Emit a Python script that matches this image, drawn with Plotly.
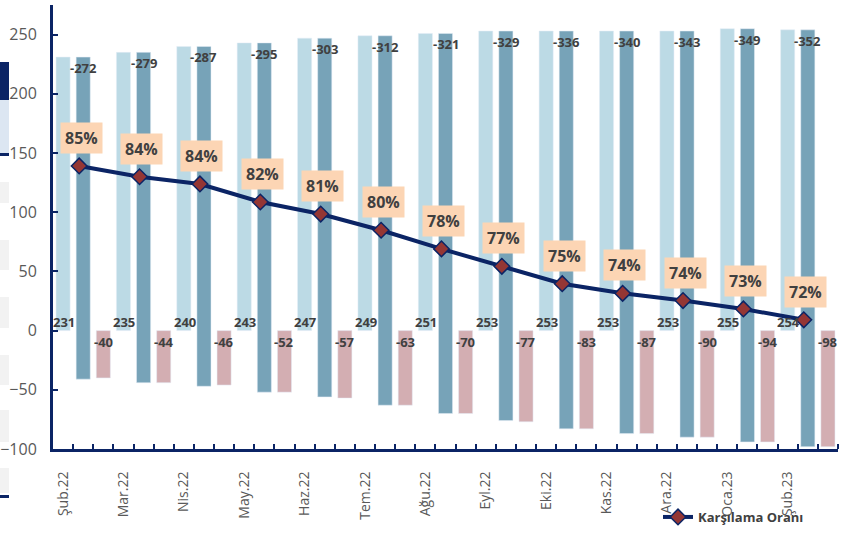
import plotly.graph_objects as go

months = ["Şub.22", "Mar.22", "Nis.22", "May.22", "Haz.22", "Tem.22", "Ağu.22",
          "Eyl.22", "Eki.22", "Kas.22", "Ara.22", "Oca.23", "Şub.23"]
exports = [231, 235, 240, 243, 247, 249, 251, 253, 253, 253, 253, 255, 254]
imports = [272, 279, 287, 295, 303, 312, 321, 329, 336, 340, 343, 349, 352]
balance = [-40, -44, -46, -52, -57, -63, -70, -77, -83, -87, -90, -94, -98]
ratio = [84.9, 84.0, 83.4, 81.9, 80.9, 79.55, 78.0, 76.55, 75.1, 74.3, 73.7, 73.0, 72.1]
ratio_labels = ["85%", "84%", "84%", "82%", "81%", "80%", "78%", "77%", "75%", "74%", "74%", "73%", "72%"]

FONT = "Open Sans"
NAVY = "#0B2465"
TXT = "#404040"

n = len(months)
x_exp = [3 * i for i in range(n)]
x_imp = [3 * i + 1 for i in range(n)]
x_bal = [3 * i + 2 for i in range(n)]
x_line = [3 * i + 0.8 for i in range(n)]
imp_neg = [-v for v in imports]

fig = go.Figure()
fig.add_trace(go.Bar(x=x_exp, y=exports, width=0.7, marker=dict(color="#BCDAE5"),
                     showlegend=False, hoverinfo="skip"))
fig.add_trace(go.Bar(x=x_imp, y=imp_neg, base=exports, width=0.7,
                     marker=dict(color="#77A3B8"), showlegend=False, hoverinfo="skip"))
fig.add_trace(go.Bar(x=x_bal, y=balance, width=0.7, marker=dict(color="#D3AEB2"),
                     showlegend=False, hoverinfo="skip"))

lab_font = dict(family=FONT, size=13, color=TXT, weight="bold")
for xe, xi, xb, e, im, b in zip(x_exp, x_imp, x_bal, exports, imports, balance):
    fig.add_annotation(x=xe, y=0, text=str(e), showarrow=False, yshift=9, xshift=1,
                       font=lab_font)
    fig.add_annotation(x=xi, y=e, text=f"-{im}", showarrow=False, yshift=-11,
                       font=lab_font)
    fig.add_annotation(x=xb, y=0, text=str(b), showarrow=False, yshift=-11,
                       font=lab_font)

fig.add_trace(go.Scatter(x=x_line, y=ratio, yaxis="y2", mode="lines+markers",
                         name="Karşılama Oranı", cliponaxis=False,
                         line=dict(color=NAVY, width=4),
                         marker=dict(symbol="diamond", size=12, color="#943634",
                                     line=dict(color=NAVY, width=1.5)),
                         hoverinfo="skip"))

for xv, rv, lab in zip(x_line, ratio, ratio_labels):
    fig.add_annotation(x=xv, y=rv, xref="x", yref="y2", text=lab, showarrow=False,
                       yshift=28, xshift=2, bgcolor="#FCD5B4", borderpad=4,
                       font=dict(family=FONT, size=16, color=TXT, weight="bold"))

# cropped neighbouring table fragments at the left edge
L, R, T, B = 53, 838, 5, 449
def px(xp):
    return (xp - L) / (R - L)
def py(yp):
    return (B - yp) / (B - T)
frag = [
    (62, 100, NAVY), (100, 153, "#DCE6F2"), (153, 156, NAVY),
    (182, 203, "#F2F2F2"), (240, 270, "#F2F2F2"), (297, 328, "#F2F2F2"),
    (355, 385, "#F2F2F2"), (410, 442, "#F2F2F2"), (468, 493, "#F2F2F2"),
    (495, 498, NAVY),
]
for y0, y1, c in frag:
    fig.add_shape(type="rect", xref="paper", yref="paper", x0=px(0), x1=px(9),
                  y0=py(y1), y1=py(y0), fillcolor=c, line=dict(width=0), layer="below")

fig.update_layout(
    width=846, height=533,
    margin=dict(l=L, r=846 - R, t=T, b=533 - B, autoexpand=False),
    paper_bgcolor="white", plot_bgcolor="white",
    barmode="overlay",
    font=dict(family=FONT, color="#595959"),
    xaxis=dict(range=[-0.5, 3 * n - 0.5], tickmode="array", tickvals=x_exp, ticktext=months,
               tickangle=-90, ticks="", ticklen=0, showgrid=False, zeroline=False,
               showline=True, linecolor=NAVY, linewidth=3, ticklabelstandoff=14,
               tickfont=dict(family=FONT, size=14, color="#595959"),
               minor=dict(tickmode="array", tickvals=[k + 0.5 for k in range(3 * n)],
                          ticks="inside", ticklen=5, tickwidth=2, tickcolor=NAVY, showgrid=False)),
    yaxis=dict(range=[-100, 275], tickmode="array", tickvals=[-100, -50, 0, 50, 100, 150, 200, 250],
               ticks="inside", ticklen=5, tickwidth=2, tickcolor=NAVY, showgrid=False,
               zeroline=False, showline=True, linecolor=NAVY, linewidth=3, ticklabelstandoff=10,
               tickfont=dict(family=FONT, size=16, color="#595959")),
    yaxis2=dict(overlaying="y", range=[61.35, 98.29], visible=False),
    legend=dict(x=px(658), y=py(532), xanchor="left", yanchor="bottom",
                font=dict(family=FONT, size=13, color=TXT, weight="bold"),
                bgcolor="rgba(0,0,0,0)"),
    showlegend=True,
)

fig.write_html("out.html", config={"displayModeBar": False},
               post_script="document.body.style.margin='0';document.body.style.overflow='hidden';")
